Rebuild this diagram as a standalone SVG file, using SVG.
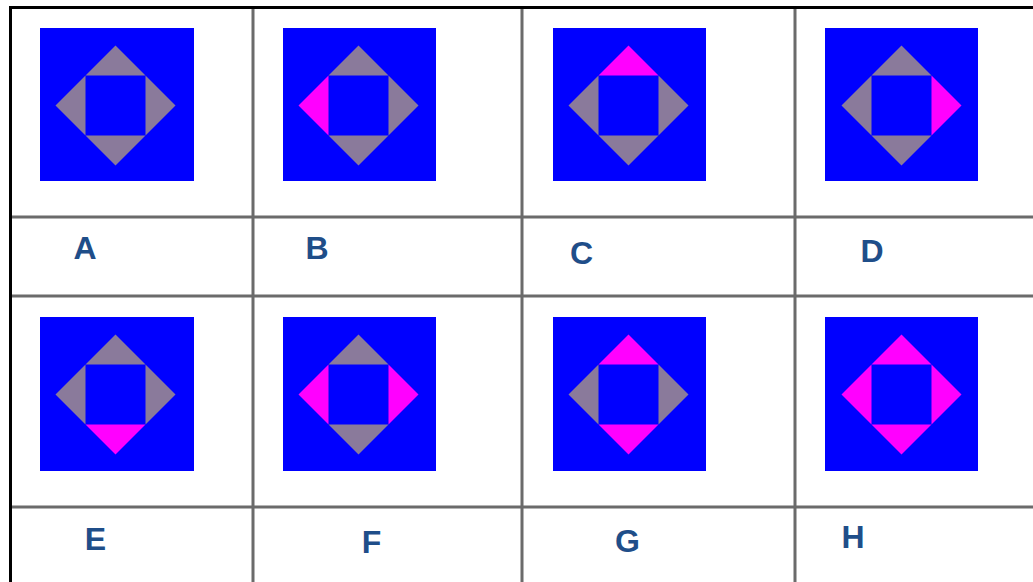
<svg xmlns="http://www.w3.org/2000/svg" width="1033" height="582" viewBox="0 0 1033 582">
  <style>
    .sq { fill: #0000ff; }
    .g { fill: #8a7a9b; }
    .m { fill: #ff00ff; }
    .lbl { font-family: "Liberation Sans", Arial, sans-serif; font-weight: bold; font-size: 32px; fill: #1f4e89; text-anchor: middle; }
    .grid { stroke: #6b6b6b; stroke-width: 3; fill: none; }
    .border { stroke: #000000; stroke-width: 3; fill: none; }
  </style>
  <defs>
    <polygon id="tT" points="-30,-30 30,-30 0,-60"/>
    <polygon id="tR" points="30,-30 30,30 60,0"/>
    <polygon id="tB" points="-30,30 30,30 0,60"/>
    <polygon id="tL" points="-30,-30 -30,30 -60,0"/>
  </defs>
  <rect x="0" y="0" width="1033" height="582" fill="#ffffff"/>

  <g id="connectors">
    <line class="grid" x1="253" y1="7" x2="253" y2="582"/>
    <line class="grid" x1="522" y1="7" x2="522" y2="582"/>
    <line class="grid" x1="795" y1="7" x2="795" y2="582"/>
    <line class="grid" x1="10" y1="217" x2="1033" y2="217"/>
    <line class="grid" x1="10" y1="296" x2="1033" y2="296"/>
    <line class="grid" x1="10" y1="507" x2="1033" y2="507"/>
    <line class="border" x1="10.5" y1="6" x2="10.5" y2="582"/>
    <line class="border" x1="9" y1="7.5" x2="1033" y2="7.5"/>
  </g>

  <g id="cellA">
    <rect class="sq" x="40" y="28" width="154" height="153"/>
    <g transform="translate(115.5,105.5)">
      <use href="#tT" class="g"/><use href="#tR" class="g"/><use href="#tB" class="g"/><use href="#tL" class="g"/>
    </g>
    <text class="lbl" x="85" y="259">A</text>
  </g>
  <g id="cellB">
    <rect class="sq" x="283" y="28" width="153" height="153"/>
    <g transform="translate(358.5,105.5)">
      <use href="#tT" class="g"/><use href="#tR" class="g"/><use href="#tB" class="g"/><use href="#tL" class="m"/>
    </g>
    <text class="lbl" x="317" y="259">B</text>
  </g>
  <g id="cellC">
    <rect class="sq" x="553" y="28" width="153" height="153"/>
    <g transform="translate(628.5,105.5)">
      <use href="#tT" class="m"/><use href="#tR" class="g"/><use href="#tB" class="g"/><use href="#tL" class="g"/>
    </g>
    <text class="lbl" x="581.5" y="263.5">C</text>
  </g>
  <g id="cellD">
    <rect class="sq" x="825" y="28" width="153" height="153"/>
    <g transform="translate(901.5,105.5)">
      <use href="#tT" class="g"/><use href="#tR" class="m"/><use href="#tB" class="g"/><use href="#tL" class="g"/>
    </g>
    <text class="lbl" x="872" y="261.5">D</text>
  </g>

  <g id="cellE">
    <rect class="sq" x="40" y="317" width="154" height="154"/>
    <g transform="translate(115.5,394.5)">
      <use href="#tT" class="g"/><use href="#tR" class="g"/><use href="#tB" class="m"/><use href="#tL" class="g"/>
    </g>
    <text class="lbl" x="95.5" y="550">E</text>
  </g>
  <g id="cellF">
    <rect class="sq" x="283" y="317" width="153" height="154"/>
    <g transform="translate(358.5,394.5)">
      <use href="#tT" class="g"/><use href="#tR" class="m"/><use href="#tB" class="g"/><use href="#tL" class="m"/>
    </g>
    <text class="lbl" x="371.5" y="553">F</text>
  </g>
  <g id="cellG">
    <rect class="sq" x="553" y="317" width="153" height="154"/>
    <g transform="translate(628.5,394.5)">
      <use href="#tT" class="m"/><use href="#tR" class="g"/><use href="#tB" class="m"/><use href="#tL" class="g"/>
    </g>
    <text class="lbl" x="627.5" y="552">G</text>
  </g>
  <g id="cellH">
    <rect class="sq" x="825" y="317" width="153" height="154"/>
    <g transform="translate(901.5,394.5)">
      <use href="#tT" class="m"/><use href="#tR" class="m"/><use href="#tB" class="m"/><use href="#tL" class="m"/>
    </g>
    <text class="lbl" x="853" y="547.5">H</text>
  </g>
</svg>
